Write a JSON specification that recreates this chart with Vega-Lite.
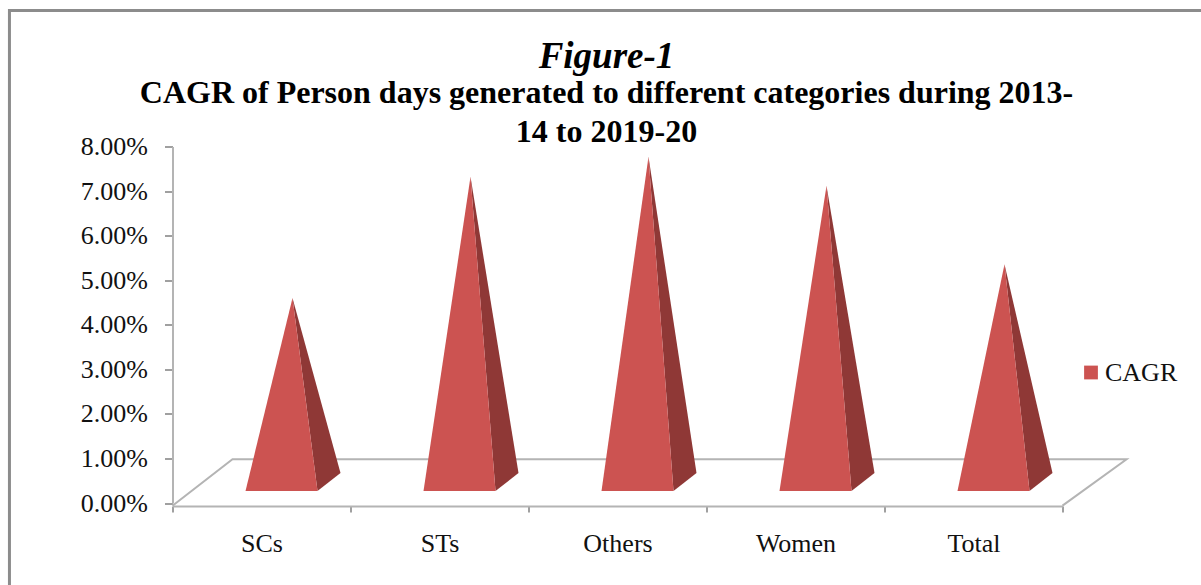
{
"$schema":"https://vega.github.io/schema/vega-lite/v6.json",
"width":890,"height":356.5,
"autosize":{"type":"none"},
"padding":{"left":172.5,"top":146.5,"right":138,"bottom":82},
"background":"white",
"title":{"text":"Figure-1","subtitle":["CAGR of Person days generated to different categories during 2013-","14 to 2019-20"],"font":"Liberation Serif","fontSize":37,"fontStyle":"italic","fontWeight":"bold","color":"black","subtitleFont":"Liberation Serif","subtitleFontSize":32,"subtitleFontWeight":"bold","subtitleColor":"black","subtitleLineHeight":39,"subtitlePadding":2,"anchor":"middle","frame":"group","dx":-11,"offset":-140},
"config":{"view":{"stroke":null}},
"resolve":{"scale":{"x":"independent"}},
"layer":[
{"data":{"values":[{"a":-0.916,"b":6,"top":11.05,"bottom":-2}]},
 "mark":{"type":"rect","fill":null,"stroke":"#8c8c8c","strokeWidth":3,"clip":false},
 "encoding":{"x":{"field":"a","type":"quantitative","scale":{"domain":[0,5],"nice":false,"zero":false},"axis":null},"x2":{"field":"b"},"y":{"field":"top","type":"quantitative","scale":{"domain":[0,8],"nice":false}},"y2":{"field":"bottom"}}},
{"data":{"values":[{"corner":1,"fx":0,"fy":-0.06},{"corner":2,"fx":0.337,"fy":0.98},{"corner":3,"fx":5.36,"fy":0.98},{"corner":4,"fx":5,"fy":-0.06}]},
 "mark":{"type":"line","stroke":"#b4b4b4","strokeWidth":2,"clip":false},
 "encoding":{"x":{"field":"fx","type":"quantitative","sort":null,"scale":{"domain":[0,5],"nice":false,"zero":false},"axis":null},"y":{"field":"fy","type":"quantitative"},"order":{"field":"corner","type":"quantitative"}}},
{"data":{"name":"rows","values":[
 {"category":"SCs","CAGR":4.33,"left":0,"right":0,"far":0},
 {"category":"STs","CAGR":7.05,"left":0,"right":0,"far":0},
 {"category":"Others","CAGR":7.5,"left":0,"right":0,"far":0},
 {"category":"Women","CAGR":6.85,"left":0,"right":0,"far":0},
 {"category":"Total","CAGR":5.09,"left":0,"right":0,"far":0}]},
 "transform":[{"fold":["CAGR","right","far"],"as":["key","level"]}],
 "mark":{"type":"line","filled":true,"fill":"#8f3836","stroke":null,"clip":false,
   "xOffset":{"expr":"datum.key==='CAGR'?31:datum.key==='right'?56:79"},
   "yOffset":{"expr":"datum.key==='far'?-30:-12"}},
 "encoding":{
  "x":{"field":"category","type":"nominal","sort":null,"scale":{"paddingInner":0,"paddingOuter":0},
    "axis":{"title":null,"labelAngle":0,"labelFont":"Liberation Serif","labelFontSize":26,"labelColor":"#111","labelPadding":18,"domainColor":"#b4b4b4","domainWidth":2,"tickColor":"#a0a0a0","tickWidth":2,"tickSize":6,"tickBand":"extent","offset":3}},
  "y":{"field":"level","type":"quantitative","scale":{"domain":[0,8],"nice":false},
    "axis":{"title":null,"tickCount":9,"grid":false,"labelExpr":"format(datum.value,'.2f')+'%'","labelFont":"Liberation Serif","labelFontSize":26,"labelColor":"#111","labelPadding":17,"domainColor":"#b4b4b4","domainWidth":2,"tickColor":"#a0a0a0","tickWidth":2,"tickSize":8}},
  "detail":{"field":"category"}}},
{"data":{"name":"rows"},
 "transform":[{"fold":["left","CAGR","right"],"as":["key","level"]}],
 "mark":{"type":"line","filled":true,"stroke":null,"clip":false,
   "xOffset":{"expr":"datum.key==='left'?-16:datum.key==='CAGR'?31:56"},
   "yOffset":-12},
 "encoding":{
  "x":{"field":"category","type":"nominal","sort":null,"scale":{"paddingInner":0,"paddingOuter":0},"axis":null},
  "y":{"field":"level","type":"quantitative"},
  "detail":{"field":"category"},
  "color":{"datum":"CAGR","scale":{"domain":["CAGR"],"range":["#cc5351"]},
    "legend":{"title":null,"orient":"none","legendX":905.5,"legendY":213,"symbolType":"square","symbolSize":190,"symbolFillColor":"#c0504d","symbolStrokeColor":"#c0504d","symbolStrokeWidth":0,"labelFont":"Liberation Serif","labelFontSize":26,"labelColor":"#111","labelOffset":1}}}}
]}
